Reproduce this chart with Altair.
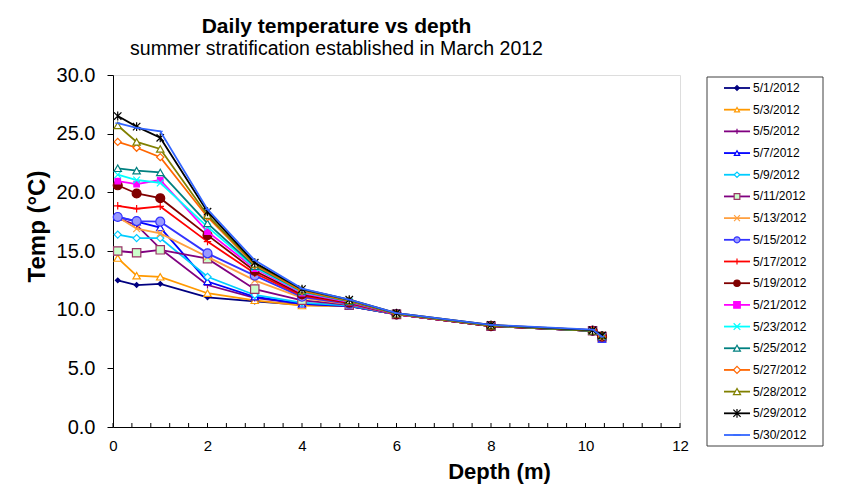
import altair as alt
import pandas as pd

FONT = "Liberation Sans"

# ---------------- data ----------------
depth_m = [0.1, 0.5, 1.0, 2.0, 3.0, 4.0, 5.0, 6.0, 8.0, 10.15, 10.35]

t_0501 = [12.5, 12.1, 12.2, 11.05, 10.7, 10.4, 10.3, 9.6, 8.6, 8.2, 7.6]
t_0503 = [14.4, 12.9, 12.8, 11.4, 10.8, 10.35, 10.3, 9.6, 8.6, 8.2, 7.6]
t_0505 = [17.8, 17.2, 15.2, 12.1, 11.0, 10.5, 10.3, 9.6, 8.6, 8.2, 7.7]
t_0507 = [17.9, 17.5, 17.0, 12.4, 11.1, 10.5, 10.3, 9.6, 8.6, 8.2, 7.5]
t_0509 = [16.4, 16.1, 16.1, 12.8, 11.25, 10.6, 10.35, 9.6, 8.6, 8.2, 7.6]
t_0511 = [15.0, 14.85, 15.1, 14.35, 11.75, 10.8, 10.4, 9.6, 8.6, 8.2, 7.7]
t_0513 = [17.9, 16.9, 16.5, 14.5, 12.5, 11.0, 10.45, 9.6, 8.6, 8.2, 7.7]
t_0515 = [17.9, 17.55, 17.5, 14.8, 12.9, 11.1, 10.5, 9.6, 8.6, 8.2, 7.6]
t_0517 = [18.85, 18.6, 18.8, 15.8, 13.1, 11.2, 10.55, 9.6, 8.6, 8.2, 7.7]
t_0519 = [20.6, 19.9, 19.5, 16.35, 13.3, 11.3, 10.6, 9.6, 8.6, 8.2, 7.7]
t_0521 = [20.95, 20.7, 21.05, 16.65, 13.5, 11.4, 10.65, 9.6, 8.65, 8.25, 7.7]
t_0523 = [21.5, 21.05, 20.8, 17.05, 13.6, 11.5, 10.7, 9.65, 8.65, 8.2, 7.7]
t_0525 = [22.05, 21.85, 21.7, 17.35, 13.7, 11.55, 10.7, 9.65, 8.65, 8.2, 7.8]
t_0527 = [24.3, 23.8, 23.0, 17.9, 13.8, 11.6, 10.75, 9.65, 8.65, 8.25, 7.7]
t_0528 = [25.7, 24.3, 23.7, 18.05, 13.9, 11.7, 10.8, 9.65, 8.65, 8.2, 7.8]
t_0529 = [26.5, 25.6, 24.65, 18.35, 14.0, 11.75, 10.85, 9.7, 8.7, 8.25, 7.8]
t_0530 = [25.9, 25.5, 25.2, 18.55, 14.2, 11.8, 10.85, 9.7, 8.7, 8.3, 7.7]

dates = ["5/1/2012", "5/3/2012", "5/5/2012", "5/7/2012", "5/9/2012", "5/11/2012",
         "5/13/2012", "5/15/2012", "5/17/2012", "5/19/2012", "5/21/2012", "5/23/2012",
         "5/25/2012", "5/27/2012", "5/28/2012", "5/29/2012", "5/30/2012"]

series_values = [t_0501, t_0503, t_0505, t_0507, t_0509, t_0511, t_0513, t_0515,
                 t_0517, t_0519, t_0521, t_0523, t_0525, t_0527, t_0528, t_0529, t_0530]

x_tick_labels = [0, 2, 4, 6, 8, 10, 12]
x_minor_ticks = [0, 0.4, 0.8, 1.2, 1.6, 2, 2.4, 2.8, 3.2, 3.6, 4, 4.4, 4.8, 5.2, 5.6, 6,
                 6.4, 6.8, 7.2, 7.6, 8, 8.4, 8.8, 9.2, 9.6, 10, 10.4, 10.8, 11.2, 11.6, 12]
y_tick_labels = [0, 5, 10, 15, 20, 25, 30]

# ---------------- styles ----------------
PLUS = "M-1,0L1,0M0,-1L0,1"
XMARK = "M-1,-1L1,1M-1,1L1,-1"
STAR = "M-1,-1L1,1M-1,1L1,-1M0,-1.2L0,1.2"
DASH = "M-1,0L1,0"

line_colors = ["#000080", "#FF9900", "#800080", "#0000FF", "#00CCFF", "#800080",
               "#FFA040", "#3333FF", "#FF0000", "#800000", "#FF00FF", "#00FFFF",
               "#008080", "#FF6600", "#808000", "#000000", "#3366FF"]
marker_shapes = ["diamond", "triangle-up", PLUS, "triangle-up", "diamond", "square",
                 XMARK, "circle", PLUS, "circle", "square", XMARK,
                 "triangle-up", "diamond", "triangle-up", STAR, DASH]
marker_fills = ["#000080", "white", "transparent", "white", "white", "#CCFFCC",
                "transparent", "#9999FF", "transparent", "#800000", "#FF00FF", "transparent",
                "white", "white", "white", "transparent", "transparent"]
marker_strokes = ["#000080", "#FF9900", "#800080", "#0000FF", "#00CCFF", "#993366",
                  "#FFA040", "#3333FF", "#FF0000", "#800000", "#FF00FF", "#00FFFF",
                  "#008080", "#FF6600", "#808000", "#000000", "#3366FF"]
marker_sizes = [22, 55, 50, 55, 50, 70, 45, 80, 55, 80, 30, 45, 55, 50, 55, 55, 25]

W, H = 567, 352

x_scale = alt.Scale(domain=[0, 12], nice=False, zero=False)
y_scale = alt.Scale(domain=[0, 30], nice=False)

x_axis = alt.Axis(values=x_tick_labels, format="d", ticks=False, labelFontSize=15,
                  labelFont=FONT, labelColor="black", labelPadding=11, labelFlush=False,
                  domainColor="black", grid=False,
                  title="Depth (m)", titleFont=FONT, titleFontSize=22, titleFontWeight="bold",
                  titleColor="black", titleX=386, titleY=44, titleAlign="center",
                  titleBaseline="middle")
y_axis = alt.Axis(values=y_tick_labels, format=".1f", tickSize=6, tickColor="black",
                  labelFontSize=20, labelFont=FONT, labelColor="black", labelPadding=12,
                  labelFlush=False, domainColor="black", grid=False,
                  title="Temp (°C)", titleFont=FONT, titleFontSize=24, titleFontWeight="bold",
                  titleColor="black", titleAngle=270, titleX=-76, titleY=151,
                  titleAlign="center", titleBaseline="middle")

# ---------------- main plot ----------------
ticks = alt.Chart(pd.DataFrame({"pos": x_minor_ticks})).mark_rule(
    color="black", strokeWidth=1
).encode(
    x=alt.X("pos:Q", scale=x_scale, axis=x_axis),
    y=alt.value(H - 4), y2=alt.value(H)
)

main_layers = [ticks]
for i, (d, vals) in enumerate(zip(dates, series_values)):
    df = pd.DataFrame({"depth": depth_m, "temp": vals, "date": d})
    base = alt.Chart(df).encode(
        x=alt.X("depth:Q", scale=x_scale, axis=x_axis),
        y=alt.Y("temp:Q", scale=y_scale, axis=y_axis),
    )
    main_layers.append(base.mark_line(color=line_colors[i], strokeWidth=1.8))
    main_layers.append(base.mark_point(
        shape=marker_shapes[i], size=marker_sizes[i], fill=marker_fills[i],
        stroke=marker_strokes[i], strokeWidth=1.2, opacity=1, filled=True
    ))
main_group = alt.layer(*main_layers)

# ---------------- legend ----------------
leg_df = pd.DataFrame({"date": dates})
ly = alt.Y("date:N", scale=alt.Scale(type="point", domain=dates, range=[13, 360], padding=0),
           axis=None)

box = alt.Chart(alt.Data(values=[{"k": 0}])).mark_rect(
    fill="white", stroke="#404040", strokeWidth=1
).encode(x=alt.value(594), x2=alt.value(710), y=alt.value(2), y2=alt.value(371))

leg_lines = alt.Chart(leg_df).mark_rule(strokeWidth=1.8).encode(
    x=alt.value(611), x2=alt.value(637), y=ly,
    color=alt.Color("date:N", scale=alt.Scale(domain=dates, range=line_colors), legend=None),
)
leg_points = alt.Chart(leg_df).mark_point(strokeWidth=1.2, opacity=1, filled=True).encode(
    x=alt.value(624), y=ly,
    shape=alt.Shape("date:N", scale=alt.Scale(domain=dates, range=marker_shapes), legend=None),
    fill=alt.Fill("date:N", scale=alt.Scale(domain=dates, range=marker_fills), legend=None),
    stroke=alt.Stroke("date:N", scale=alt.Scale(domain=dates, range=marker_strokes), legend=None),
    size=alt.Size("date:N", scale=alt.Scale(domain=dates, range=marker_sizes), legend=None),
)
leg_text = alt.Chart(leg_df).mark_text(
    align="left", baseline="middle", fontSize=12, font=FONT, color="black"
).encode(x=alt.value(640), y=ly, text="date:N")

legend_group = alt.layer(box, leg_lines, leg_points, leg_text)

chart = alt.layer(main_group, legend_group).resolve_scale(
    y="independent"
).properties(
    width=W, height=H,
    autosize=alt.AutoSizeParams(type="none"),
    padding={"left": 105, "top": 67, "right": 157, "bottom": 63},
    title=alt.TitleParams(
        text="Daily temperature vs depth",
        subtitle="summer stratification established in March 2012",
        font=FONT, fontSize=21, fontWeight="bold", color="black",
        subtitleFont=FONT, subtitleFontSize=19.5, subtitleColor="black",
        subtitlePadding=3, anchor="middle", dx=-60, offset=7,
    ),
).configure_view(stroke="#808080", strokeWidth=1).configure(background="white")

chart.save("out.html", embed_options={"renderer": "svg", "actions": False})
